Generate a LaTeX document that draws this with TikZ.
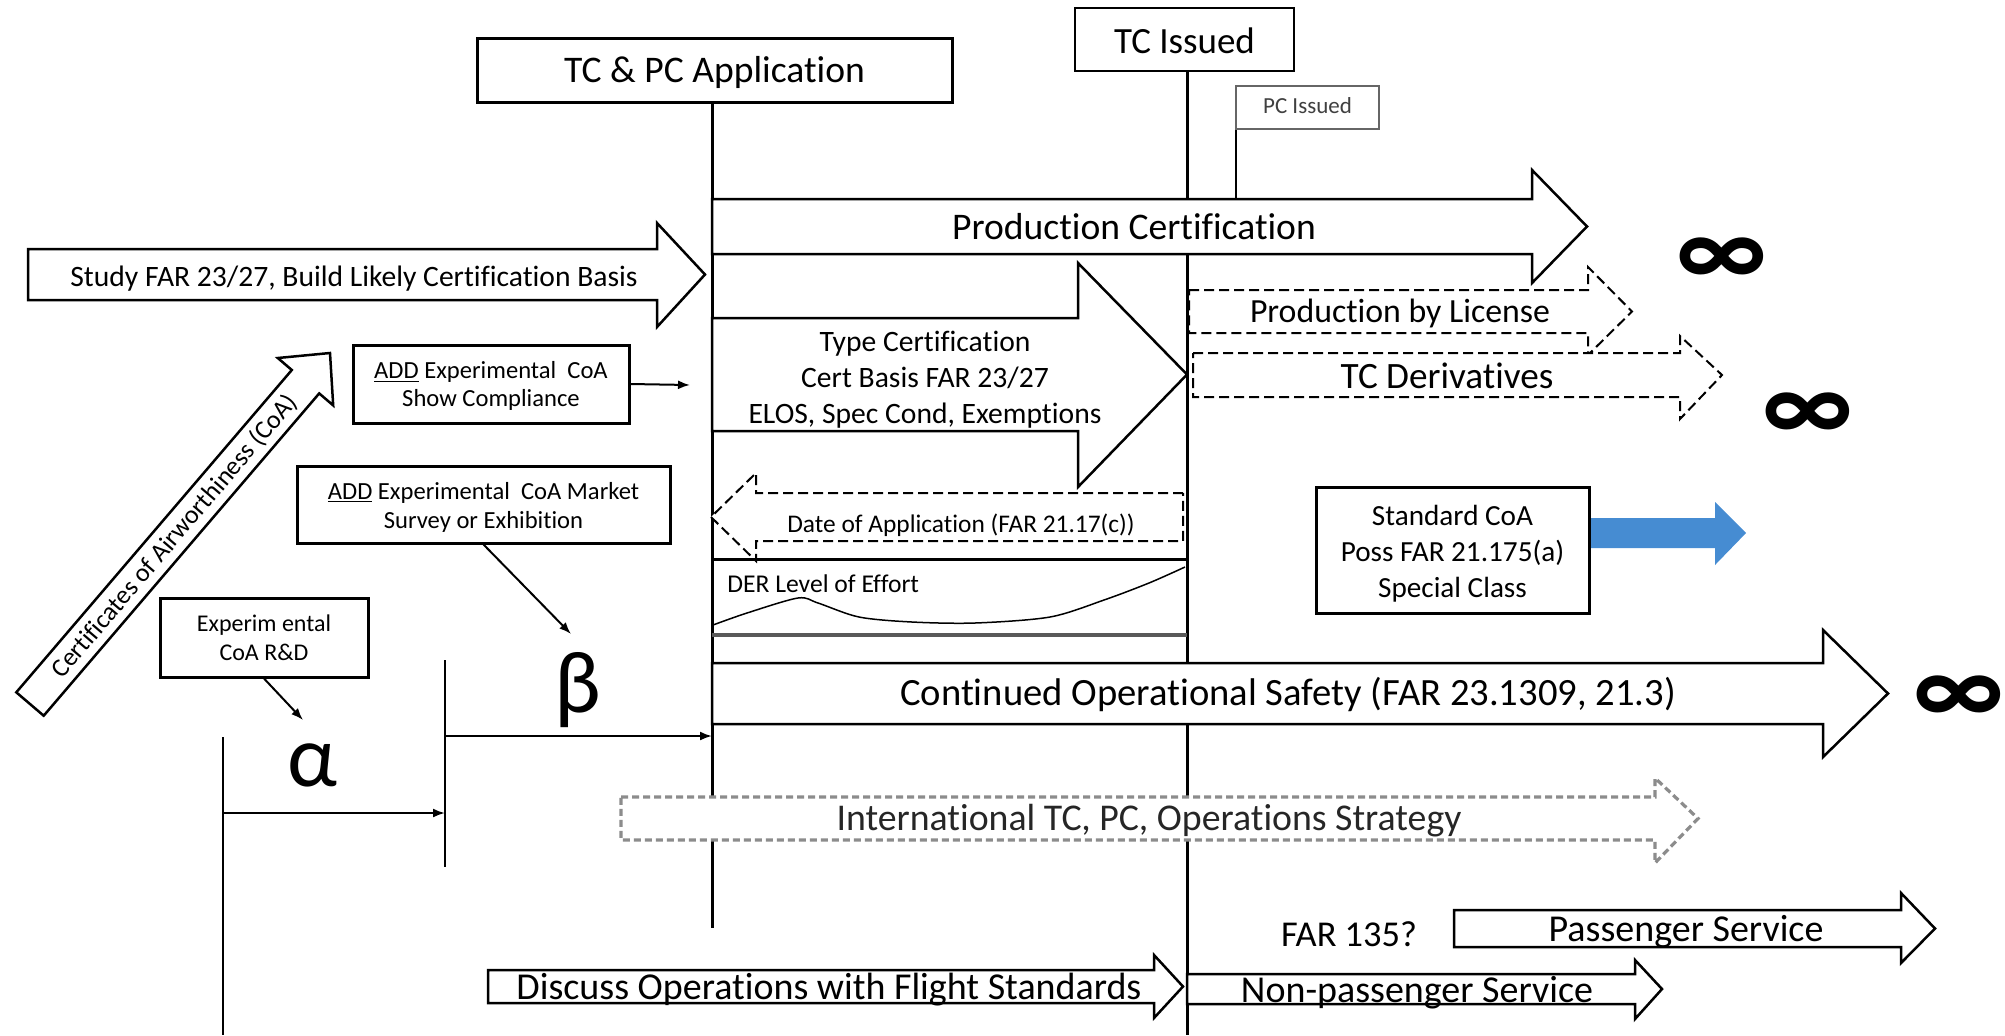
\documentclass[tikz,border=0pt]{standalone}
\usepackage{fontspec}
\setmainfont{Carlito}[Ligatures=NoCommon]
\usetikzlibrary{arrows.meta}
\definecolor{coablue}{RGB}{70,140,210}
\newcommand{\fsz}[2]{\fontsize{#1pt}{#2pt}\selectfont}
% right-pointing block arrow: style, left x, head base x, tip x, body top, body bottom, head top, head bottom
\newcommand{\rblock}[8]{\path[#1] (#2,#5) -- (#3,#5) -- (#3,#7) -- (#4,{(#5+#6)/2}) -- (#3,#8) -- (#3,#6) -- (#2,#6) -- cycle;}

\begin{document}
\begin{tikzpicture}[x=0.5pt,y=-0.5pt,
  solidarrow/.style={draw=black,line width=1.25pt,fill=white,line join=miter},
  dasharrow/.style={draw=black,line width=1pt,dash pattern=on 5pt off 2.5pt,fill=white},
  grayarrow/.style={draw=black!45,line width=1.6pt,dash pattern=on 3.5pt off 2pt,fill=white},
  % one-line label of the given font size, centred on the middle of its lower-case letters
  lbl/.code={\pgfmathsetmacro\lblh{0.64*#1}\pgfkeysalso{/tikz/inner sep=0pt,/tikz/font=\fsz{#1}{#1},/tikz/text depth=0pt,/tikz/text height=\lblh pt}},
  framed/.style={draw=black,line width=1.5pt,fill=white,inner sep=0pt},
  boxtext/.style={inner sep=0pt,align=center},
  timeline/.style={line width=1.5pt},
  link/.style={line width=1pt,-{Latex[length=6pt,width=4.5pt]}},
  inf/.style={inner sep=0pt,font=\fsz{54}{54}\bfseries},
  greek/.style={anchor=base,inner sep=0pt,font=\fsz{44}{44}}
]
\path[use as bounding box,fill=white] (0,0) rectangle (2005,1035);

% ---- time lines ----
\coordinate (appA) at (712,102);  \coordinate (appB) at (712,928);
\coordinate (tcA)  at (1187,71);  \coordinate (tcB)  at (1187,1035);
\coordinate (pcA)  at (1236,129); \coordinate (pcB)  at (1236,199);
\coordinate (alA)  at (223,737);  \coordinate (alB)  at (223,1035);
\coordinate (beA)  at (445,660);  \coordinate (beB)  at (445,867);
\draw[timeline] (appA) -- (appB);
\draw[timeline] (tcA) -- (tcB);
\draw[line width=1pt] (pcA) -- (pcB);
\draw[line width=1.25pt] (alA) -- (alB);
\draw[line width=1.25pt] (beA) -- (beB);

% ---- block arrows ----
\rblock{solidarrow}{28}{657}{705}{249}{300}{223}{327}
\node[lbl=14.8] (study) at (354,277) {Study FAR 23/27, Build Likely Certification Basis};

\rblock{solidarrow}{712}{1532}{1587}{199}{254}{170}{283}
\node[lbl=18.8] (prodcert) at (1134,227) {Production Certification};

\rblock{solidarrow}{712}{1078}{1187}{318}{431}{263}{487}
\node[boxtext,font=\fsz{14.8}{18}] (typecert) at (925,380)
  {Type Certification\\Cert Basis FAR 23/27\\ELOS, Spec Cond, Exemptions};

\rblock{dasharrow}{1189}{1588}{1632}{290}{333}{267}{355}
\node[lbl=16.9] (license) at (1400,312) {Production by License};

\rblock{dasharrow}{1193}{1680}{1722}{353}{397}{336}{419}
\node[lbl=18.6] (deriv) at (1447,377) {TC Derivatives};

% date of application (points back to the left)
\path[dasharrow] (1183,493) -- (756,493) -- (756,473) -- (711,517) -- (756,561) -- (756,541) -- (1183,541) -- cycle;
\node[lbl=12.7] (doa) at (961,524) {Date of Application (FAR 21.17(c))};

% DER level of effort strip
\coordinate (derTL) at (712,559); \coordinate (derTR) at (1187,559);
\coordinate (derBL) at (712,635); \coordinate (derBR) at (1187,635);
\draw[line width=1.5pt] (derTL) -- (derTR);
\draw[line width=2pt,draw=black!65] (derBL) -- (derBR);
\node[lbl=12.8,anchor=west] (der) at (727,584) {DER Level of Effort};
\draw[line width=0.75pt] plot[smooth] coordinates {(713,625) (747,613) (798,598) (818,603) (859,617) (912,622) (975,623) (1050,617) (1104,600) (1149,583) (1185,567)};

\rblock{solidarrow}{712}{1823}{1888}{663}{724}{630}{757}
\node[lbl=19.3] (cos) at (1288,693) {Continued Operational Safety (FAR 23.1309, 21.3)};

\rblock{grayarrow}{621}{1655}{1698}{797}{840}{778}{863}
\node[lbl=18.9,text=black!85] (intl) at (1149,818) {International TC, PC, Operations Strategy};

\rblock{solidarrow}{488}{1154}{1183}{970}{1003}{955}{1018}
\node[lbl=19] (discuss) at (829,987) {Discuss Operations with Flight Standards};

\rblock{solidarrow}{1187}{1635}{1662}{974}{1004}{960}{1019}
\node[lbl=19] (nonpax) at (1417,990) {Non-passenger Service};

\rblock{solidarrow}{1454}{1901}{1935}{910}{947}{893}{963}
\node[lbl=19] (pax) at (1686,929) {Passenger Service};

\node[lbl=18.2] (far135) at (1349,935) {FAR 135?};

% certificates of airworthiness (diagonal)
\path[solidarrow] (16.3,692.3) -- (291.8,370.0) -- (277.8,358.0) -- (330,353) -- (333.2,405.4) -- (319.2,393.4) -- (43.7,715.7) -- cycle;
\node[lbl=13,rotate=49.5] (coa) at (174,536) {Certificates of Airworthiness (CoA)};

% standard CoA arrow
\path[fill=coablue] (1589,518) -- (1715,518) -- (1715,502) -- (1746,533) -- (1715,565) -- (1715,548) -- (1589,548) -- cycle;

% ---- framed labels ----
\node[framed,minimum width=237.5pt,minimum height=32pt] (tcpc) at (714.5,70) {};
\node[lbl=18.8] (tcpctxt) at (714.5,70) {TC \& PC Application};
\node[framed,line width=1pt,minimum width=109.5pt,minimum height=31.5pt] (tci) at (1184.5,39.5) {};
\node[lbl=18.5] (tcitxt) at (1184.5,42) {TC Issued};
\node[framed,line width=0.75pt,draw=black!60,minimum width=71.5pt,minimum height=21.5pt] (pci) at (1307.5,107.5) {};
\node[lbl=11.5,text=black!75] (pcitxt) at (1307.5,106) {PC Issued};

\node[framed,minimum width=138pt,minimum height=39pt] (add1) at (491,384) {};
\node[boxtext,font=\fsz{12.3}{14}] (add1txt) at (491,386) {\underline{ADD} Experimental\ \ CoA\\Show Compliance};
\node[framed,minimum width=186.5pt,minimum height=38.5pt] (add2) at (483.5,504.5) {};
\node[boxtext,font=\fsz{12.3}{14.5}] (add2txt) at (483.5,507) {\underline{ADD} Experimental\ \ CoA Market\\Survey or Exhibition};
\node[framed,minimum width=104pt,minimum height=39.5pt] (rnd) at (264,637.5) {};
\node[boxtext,font=\fsz{12}{14.5}] (rndtxt) at (264,637.5) {Experim ental\\CoA R\&D};
\node[framed,minimum width=136.5pt,minimum height=63pt] (stdcoa) at (1452.5,550) {};
\node[boxtext,font=\fsz{14.6}{18}] (stdcoatxt) at (1452.5,554) {Standard CoA\\Poss FAR 21.175(a)\\Special Class};

% ---- phase letters and infinity marks ----
\node[greek] (alpha) at (312,786) {α};
\node[greek] (beta) at (578,712) {β};
\node[inf] (inf1) at (1722,262) {∞};
\node[inf] (inf2) at (1808,417) {∞};
\node[inf] (inf3) at (1959,700) {∞};

% ---- connectors ----
\coordinate (add1end) at (690,385);
\coordinate (add2end) at (571,634);
\coordinate (rndend) at (303,720);
\coordinate (alS) at (223,813); \coordinate (alE) at (445,813);
\coordinate (beS) at (445,736); \coordinate (beE) at (712,736);
\draw[link] (add1.east) -- (add1end);
\draw[link] (add2.south) -- (add2end);
\draw[link] (rnd.south) -- (rndend);
\draw[link] (alS) -- (alE);
\draw[link] (beS) -- (beE);
\end{tikzpicture}
\end{document}
